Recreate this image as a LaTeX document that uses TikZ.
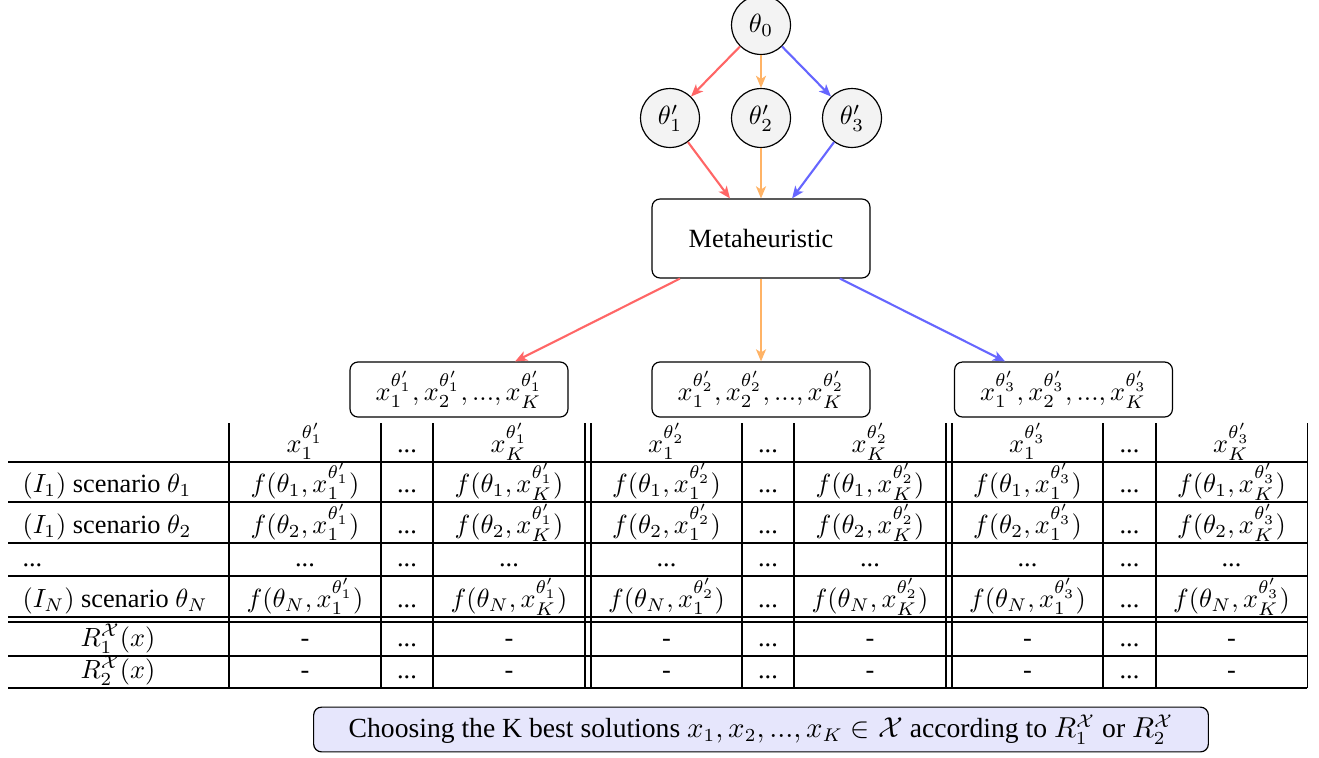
\documentclass[tikz,border=0pt]{standalone}
\usepackage{fontspec}
\setmainfont{Liberation Serif}
\usetikzlibrary{arrows.meta}

\definecolor{lnred}{RGB}{255,102,102}
\definecolor{lnorange}{RGB}{255,179,102}
\definecolor{lnblue}{RGB}{102,102,255}
\definecolor{notefill}{RGB}{230,230,252}
\definecolor{paramfill}{RGB}{243,243,243}

% solution x_i with parameter theta'_j
\newcommand\solx[2]{x_{#1}^{\theta'_{#2}}}

\begin{document}
\begin{tikzpicture}[x=0.38pt,y=-0.38pt,
  param/.style={circle,draw,line width=0.45pt,fill=paramfill,minimum size=22.4pt,inner sep=0pt},
  algobox/.style={draw,line width=0.45pt,rounded corners=3pt,minimum width=82.8pt,minimum height=30pt,inner sep=0pt},
  solbox/.style={draw,line width=0.45pt,rounded corners=3pt,minimum width=82.8pt,minimum height=20.9pt,inner sep=0pt},
  notebox/.style={draw,line width=0.45pt,rounded corners=3pt,fill=notefill,minimum width=340pt,minimum height=17pt,inner sep=0pt,font=\fontsize{10.5}{12.6}\selectfont},
  flow/.style={line width=0.8pt,-{Stealth[length=4.6pt,width=3.8pt,inset=1.2pt]}},
  grid/.style={line width=0.4pt},
  cell/.style={anchor=base,inner sep=0pt},
  lcell/.style={anchor=base west,inner sep=0pt}]
\useasboundingbox (0,0) rectangle (1319,757);

% parameter nodes
\node[param] (t0) at (761,25) {$\theta_0$};
\node[param] (t1) at (670,118) {$\theta'_1$};
\node[param] (t2) at (761,118) {$\theta'_2$};
\node[param] (t3) at (852,118) {$\theta'_3$};

% metaheuristic
\node[algobox] (meta) at (761,238.5) {Metaheuristic};

% solution sets
\node[solbox] (s1) at (459,389.5) {$\solx{1}{1}, \solx{2}{1}, ..., \solx{K}{1}$};
\node[solbox] (s2) at (761,389.5) {$\solx{1}{2}, \solx{2}{2}, ..., \solx{K}{2}$};
\node[solbox] (s3) at (1063.5,389.5) {$\solx{1}{3}, \solx{2}{3}, ..., \solx{K}{3}$};

% connectors
\draw[flow,lnred] (t0) -- (t1);
\draw[flow,lnorange] (t0) -- (t2);
\draw[flow,lnblue] (t0) -- (t3);
\draw[flow,lnred] (t1) -- ([xshift=-11.8pt]meta.north);
\draw[flow,lnorange] (t2) -- (meta.north);
\draw[flow,lnblue] (t3) -- ([xshift=11.8pt]meta.north);
\draw[flow,lnred] ([xshift=-30.8pt]meta.south) -- ([xshift=21.3pt]s1.north);
\draw[flow,lnorange] (meta.south) -- (s2.north);
\draw[flow,lnblue] ([xshift=30pt]meta.south) -- ([xshift=-22.2pt]s3.north);

% table rules
\foreach \y in {462,502,543,576,617,622,656,688}
  \draw[grid] (8,\y) -- (1307,\y);
\foreach \x in {229,381,433,585,591,742,794,946,952,1103,1156,1307}
  \draw[grid] (\x,423) -- (\x,688);

% row labels
\node[lcell] (l1) at (22,492.5) {$(I_1)$ scenario $\theta_1$};
\node[lcell] (l2) at (22,533.5) {$(I_1)$ scenario $\theta_2$};
\node[lcell] (l3) at (22,566.5) {...};
\node[lcell] (lN) at (22,607.5) {$(I_N)$ scenario $\theta_N$};
\node[cell] (lR1) at (118,646.5) {$R_1^{\mathcal{X}}(x)$};
\node[cell] (lR2) at (118,678.5) {$R_2^{\mathcal{X}}(x)$};

% table cells, one block per parameter
\foreach \b/\xa/\xd/\xk in {1/305/407/509, 2/666.5/768/870, 3/1027.5/1129.5/1231.5} {
  \node[cell] (h\b a) at (\xa,452.5) {$\solx{1}{\b}$};
  \node[cell] (h\b d) at (\xd,452.5) {...};
  \node[cell] (h\b k) at (\xk,452.5) {$\solx{K}{\b}$};
  \foreach \r/\y/\t in {1/492.5/\theta_1, 2/533.5/\theta_2, N/607.5/\theta_N} {
    \node[cell] (c\r\b a) at (\xa,\y) {$f(\t, \solx{1}{\b})$};
    \node[cell] (c\r\b d) at (\xd,\y) {...};
    \node[cell] (c\r\b k) at (\xk,\y) {$f(\t, \solx{K}{\b})$};
  }
  \node[cell] (e\b a) at (\xa,566.5) {...};
  \node[cell] (e\b d) at (\xd,566.5) {...};
  \node[cell] (e\b k) at (\xk,566.5) {...};
  \foreach \q/\y in {1/646.5, 2/678.5} {
    \node[cell] (r\q\b a) at (\xa,\y) {-};
    \node[cell] (r\q\b d) at (\xd,\y) {...};
    \node[cell] (r\q\b k) at (\xk,\y) {-};
  }
}

% selection note
\node[notebox] (note) at (761,729.5) {Choosing the K best solutions $x_1, x_2, ..., x_K \in \mathcal{X}$ according to $R_1^{\mathcal{X}}$ or $R_2^{\mathcal{X}}$};
\end{tikzpicture}
\end{document}
